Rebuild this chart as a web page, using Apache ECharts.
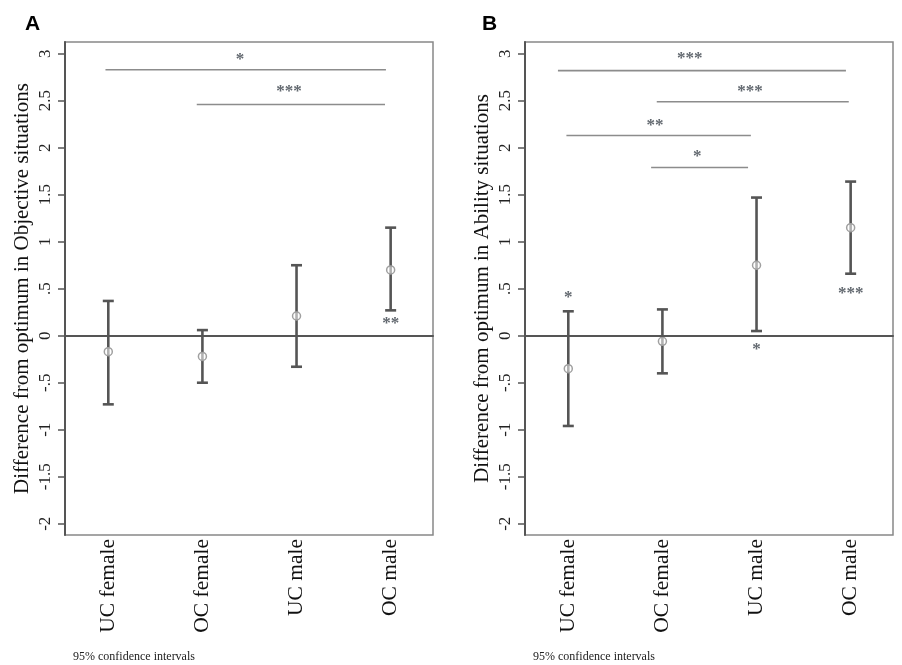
<!DOCTYPE html>
<html><head><meta charset="utf-8">
<script src="https://cdn.jsdelivr.net/npm/echarts@6/dist/echarts.min.js"></script>
<style>html,body{margin:0;padding:0;background:#fff}#c{width:902px;height:665px}</style>
</head><body><div id="c"></div>
<script>
const categories = ['UC female', 'OC female', 'UC male', 'OC male'];
const yTickValues = [-2, -1.5, -1, -0.5, 0, 0.5, 1, 1.5, 2, 2.5, 3];
const yTickLabels = ['-2', '-1.5', '-1', '-.5', '0', '.5', '1', '1.5', '2', '2.5', '3'];

// Panel A: Objective situations (mean, 95% CI)
const objMean = [-0.17, -0.22, 0.21, 0.70];
const objLow  = [-0.73, -0.50, -0.33, 0.27];
const objHigh = [0.37, 0.06, 0.75, 1.15];
// brackets: [fromX, toX, y]
const objBrackets = [[0.97, 3.95, 2.83], [1.94, 3.94, 2.46]];
// star labels: [x, y, text]
const objStars = [[2.4, 2.97, '*'], [2.92, 2.63, '***'], [4, 0.16, '**']];

// Panel B: Ability situations
const abiMean = [-0.35, -0.06, 0.75, 1.15];
const abiLow  = [-0.96, -0.40, 0.05, 0.66];
const abiHigh = [0.26, 0.28, 1.47, 1.64];
const abiBrackets = [[0.89, 3.95, 2.82], [1.94, 3.98, 2.49], [0.98, 2.94, 2.13], [1.88, 2.91, 1.79]];
const abiStars = [[2.29, 2.98, '***'], [2.93, 2.63, '***'], [1.92, 2.27, '**'], [2.37, 1.94, '*'],
                  [1, 0.44, '*'], [3, -0.12, '*'], [4, 0.48, '***']];

const SERIF = '"Liberation Serif","Times New Roman",serif';

function errData(mean, lo, hi) {
  return categories.map((c, i) => [i + 1, mean[i], lo[i], hi[i]]);
}
function renderErr(params, api) {
  const x = api.value(0);
  const pM = api.coord([x, api.value(1)]);
  const pLo = api.coord([x, api.value(2)]);
  const pHi = api.coord([x, api.value(3)]);
  const cap = 5.5;
  const st = { stroke: '#555', lineWidth: 2.6 };
  return { type: 'group', children: [
    { type: 'line', shape: { x1: pHi[0], y1: pHi[1], x2: pLo[0], y2: pLo[1] }, style: st },
    { type: 'line', shape: { x1: pHi[0] - cap, y1: pHi[1], x2: pHi[0] + cap, y2: pHi[1] }, style: st },
    { type: 'line', shape: { x1: pLo[0] - cap, y1: pLo[1], x2: pLo[0] + cap, y2: pLo[1] }, style: st },
    { type: 'circle', shape: { cx: pM[0], cy: pM[1], r: 4 }, style: { fill: 'rgba(255,255,255,0.55)', stroke: '#a0a0a0', lineWidth: 1.5 } }
  ]};
}
function renderBracket(params, api) {
  const p1 = api.coord([api.value(0), api.value(2)]);
  const p2 = api.coord([api.value(1), api.value(2)]);
  return { type: 'line', shape: { x1: p1[0], y1: p1[1], x2: p2[0], y2: p1[1] }, style: { stroke: '#8c8c8c', lineWidth: 1.6 } };
}
function starRenderer(list) {
  return function (params, api) {
    const d = list[params.dataIndex];
    const p = api.coord([d[0], d[1]]);
    return { type: 'text', x: p[0], y: p[1] + 3, style: {
      text: d[2], fill: '#62686f', font: 'bold 17px ' + SERIF, align: 'center', verticalAlign: 'middle' } };
  };
}
function starData(list) { return list.map(d => [d[0], d[1]]); }

function yLabel(v) {
  const i = yTickValues.findIndex(t => Math.abs(t - v) < 1e-9);
  return i >= 0 ? yTickLabels[i] : '';
}

function xAxisCfg(idx) {
  return {
    type: 'value', gridIndex: idx, min: 0.54, max: 4.45,
    splitLine: { show: false },
    axisLine: { show: true, lineStyle: { color: '#555', width: 2 } },
    axisTick: { show: false },
    axisLabel: { customValues: [1, 2, 3, 4], formatter: v => categories[Math.round(v) - 1] || '',
      rotate: 90, margin: 4, color: '#111', fontSize: 21.5, fontFamily: SERIF }
  };
}
function yAxisCfg(idx, name) {
  return {
    type: 'value', gridIndex: idx, min: -2.12, max: 3.125,
    name: name, nameLocation: 'middle', nameRotate: 90, nameGap: 32,
    nameTextStyle: { color: '#111', fontSize: 21, fontFamily: SERIF },
    splitLine: { show: false },
    axisLine: { show: true, lineStyle: { color: '#555', width: 2 } },
    axisTick: { show: true, customValues: yTickValues, length: 7, lineStyle: { color: '#555', width: 1.5 } },
    axisLabel: { customValues: yTickValues, formatter: yLabel, rotate: 90, margin: 11,
      color: '#222', fontSize: 17, fontFamily: SERIF }
  };
}
function zeroLine() {
  return { silent: true, symbol: 'none', label: { show: false },
    lineStyle: { color: '#555', width: 2, type: 'solid' }, data: [{ yAxis: 0 }] };
}

const chart = echarts.init(document.getElementById('c'), null, { renderer: 'canvas' });
chart.setOption({
  backgroundColor: '#fff',
  animation: false,
  title: [
    { text: 'A', left: 20, top: 9, textStyle: { fontSize: 21, fontWeight: 'bold', color: '#000', fontFamily: '"Liberation Sans",Arial,sans-serif' } },
    { text: 'B', left: 477, top: 9, textStyle: { fontSize: 21, fontWeight: 'bold', color: '#000', fontFamily: '"Liberation Sans",Arial,sans-serif' } },
    { text: '95% confidence intervals', left: 68, top: 646, textStyle: { fontSize: 12, fontWeight: 'normal', color: '#222', fontFamily: SERIF } },
    { text: '95% confidence intervals', left: 528, top: 646, textStyle: { fontSize: 12, fontWeight: 'normal', color: '#222', fontFamily: SERIF } }
  ],
  grid: [
    { left: 65, top: 42, width: 368, height: 493, show: true, borderColor: '#888', borderWidth: 1.5, backgroundColor: '#fff' },
    { left: 525, top: 42, width: 368, height: 493, show: true, borderColor: '#888', borderWidth: 1.5, backgroundColor: '#fff' }
  ],
  xAxis: [xAxisCfg(0), xAxisCfg(1)],
  yAxis: [yAxisCfg(0, 'Difference from optimum in Objective situations'), yAxisCfg(1, 'Difference from optimum in Ability situations')],
  series: [
    { type: 'custom', xAxisIndex: 0, yAxisIndex: 0, renderItem: renderErr, data: errData(objMean, objLow, objHigh), markLine: zeroLine(), silent: true },
    { type: 'custom', xAxisIndex: 0, yAxisIndex: 0, renderItem: renderBracket, data: objBrackets, silent: true },
    { type: 'custom', xAxisIndex: 0, yAxisIndex: 0, renderItem: starRenderer(objStars), data: starData(objStars), silent: true },
    { type: 'custom', xAxisIndex: 1, yAxisIndex: 1, renderItem: renderErr, data: errData(abiMean, abiLow, abiHigh), markLine: zeroLine(), silent: true },
    { type: 'custom', xAxisIndex: 1, yAxisIndex: 1, renderItem: renderBracket, data: abiBrackets, silent: true },
    { type: 'custom', xAxisIndex: 1, yAxisIndex: 1, renderItem: starRenderer(abiStars), data: starData(abiStars), silent: true }
  ]
});
</script></body></html>
